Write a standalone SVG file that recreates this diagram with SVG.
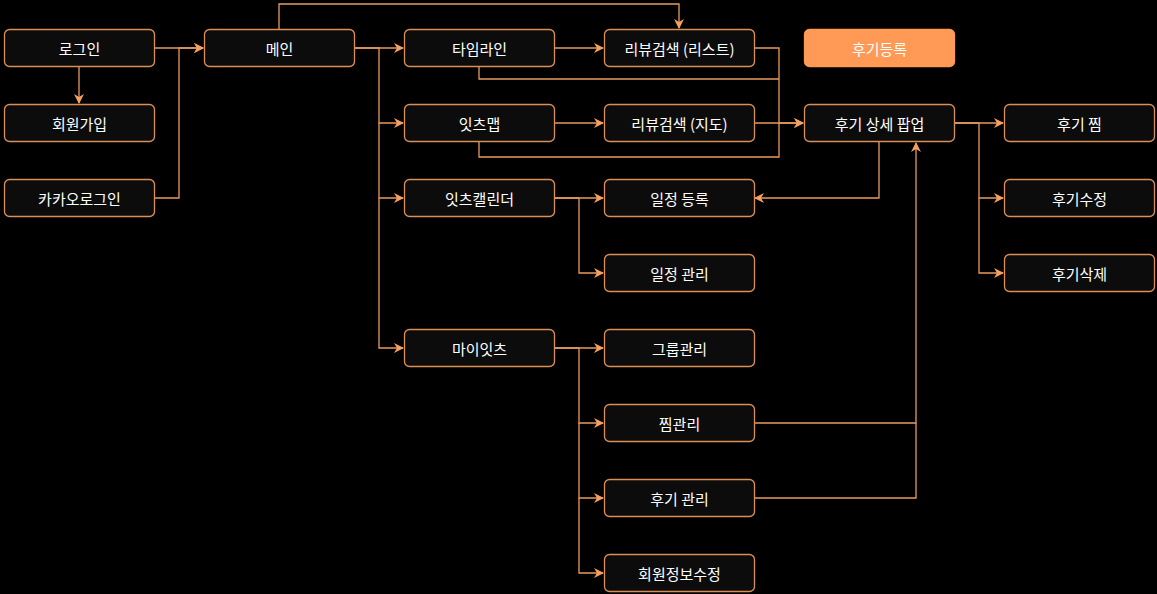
<svg xmlns="http://www.w3.org/2000/svg" width="1157" height="594" viewBox="0 0 1157 594">
<style>
.n rect{fill:#0c0c0c;stroke:#d98f55;stroke-width:1.3}
.n text{fill:#ffffff;font-family:"Noto Sans CJK KR","Noto Sans",sans-serif;font-size:15px;text-anchor:middle;dominant-baseline:central}
.hl rect{fill:#ff9a56;stroke:#ff9a56}
.e path{fill:none;stroke:#e89a5c;stroke-width:1.3}
</style>
<defs>
<marker id="a" viewBox="0 0 10 10" refX="9" refY="5" markerWidth="10" markerHeight="10" markerUnits="userSpaceOnUse" orient="auto">
<path d="M0,0 L10,5 L0,10 L3,5 z" fill="#f5a060"/>
</marker>
</defs>
<rect width="1157" height="594" fill="#000"/>
<g class="e">
<path d="M79,67 V103" marker-end="url(#a)"/>
<path d="M154,48 H203" marker-end="url(#a)"/>
<path d="M154,198 H179 V48 H203" marker-end="url(#a)"/>
<path d="M279,29 V4 H679 V28" marker-end="url(#a)"/>
<path d="M354,48 H403" marker-end="url(#a)"/>
<path d="M354,48 H379 V123 H403" marker-end="url(#a)"/>
<path d="M379,123 V198 H403" marker-end="url(#a)"/>
<path d="M379,198 V348 H403" marker-end="url(#a)"/>
<path d="M554,48 H603" marker-end="url(#a)"/>
<path d="M554,123 H603" marker-end="url(#a)"/>
<path d="M754,48 H779 V123 H803" marker-end="url(#a)"/>
<path d="M479,67 V79 H779"/>
<path d="M754,123 H803" marker-end="url(#a)"/>
<path d="M479,142 V157 H779 V123"/>
<path d="M879,142 V198 H755" marker-end="url(#a)"/>
<path d="M554,198 H603" marker-end="url(#a)"/>
<path d="M554,198 H579 V273 H603" marker-end="url(#a)"/>
<path d="M554,348 H603" marker-end="url(#a)"/>
<path d="M554,348 H579 V423 H603" marker-end="url(#a)"/>
<path d="M579,423 V498 H603" marker-end="url(#a)"/>
<path d="M579,498 V573 H603" marker-end="url(#a)"/>
<path d="M754,423 H916 V143" marker-end="url(#a)"/>
<path d="M754,498 H916 V423"/>
<path d="M954,123 H1003" marker-end="url(#a)"/>
<path d="M954,123 H979 V198 H1003" marker-end="url(#a)"/>
<path d="M979,198 V273 H1003" marker-end="url(#a)"/>
</g>
<g id="login" class="n"><rect x="4.5" y="29.5" width="150" height="37" rx="5"/><text x="79.5" y="48">로그인</text></g>
<g id="signup" class="n"><rect x="4.5" y="104.5" width="150" height="37" rx="5"/><text x="79.5" y="123">회원가입</text></g>
<g id="kakao" class="n"><rect x="4.5" y="179.5" width="150" height="37" rx="5"/><text x="79.5" y="198">카카오로그인</text></g>
<g id="main" class="n"><rect x="204.5" y="29.5" width="150" height="37" rx="5"/><text x="279.5" y="48">메인</text></g>
<g id="timeline" class="n"><rect x="404.5" y="29.5" width="150" height="37" rx="5"/><text x="479.5" y="48">타임라인</text></g>
<g id="eatsmap" class="n"><rect x="404.5" y="104.5" width="150" height="37" rx="5"/><text x="479.5" y="123">잇츠맵</text></g>
<g id="calendar" class="n"><rect x="404.5" y="179.5" width="150" height="37" rx="5"/><text x="479.5" y="198">잇츠캘린더</text></g>
<g id="myeats" class="n"><rect x="404.5" y="329.5" width="150" height="37" rx="5"/><text x="479.5" y="348">마이잇츠</text></g>
<g id="searchlist" class="n"><rect x="604.5" y="29.5" width="150" height="37" rx="5"/><text x="679.5" y="48">리뷰검색 (리스트)</text></g>
<g id="searchmap" class="n"><rect x="604.5" y="104.5" width="150" height="37" rx="5"/><text x="679.5" y="123">리뷰검색 (지도)</text></g>
<g id="schedadd" class="n"><rect x="604.5" y="179.5" width="150" height="37" rx="5"/><text x="679.5" y="198">일정 등록</text></g>
<g id="schedmgmt" class="n"><rect x="604.5" y="254.5" width="150" height="37" rx="5"/><text x="679.5" y="273">일정 관리</text></g>
<g id="group" class="n"><rect x="604.5" y="329.5" width="150" height="37" rx="5"/><text x="679.5" y="348">그룹관리</text></g>
<g id="zzim" class="n"><rect x="604.5" y="404.5" width="150" height="37" rx="5"/><text x="679.5" y="423">찜관리</text></g>
<g id="reviewmgmt" class="n"><rect x="604.5" y="479.5" width="150" height="37" rx="5"/><text x="679.5" y="498">후기 관리</text></g>
<g id="profile" class="n"><rect x="604.5" y="554.5" width="150" height="37" rx="5"/><text x="679.5" y="573">회원정보수정</text></g>
<g id="reviewadd" class="n hl"><rect x="804.5" y="29.5" width="150" height="37" rx="5"/><text x="879.5" y="48">후기등록</text></g>
<g id="detail" class="n"><rect x="804.5" y="104.5" width="150" height="37" rx="5"/><text x="879.5" y="123">후기 상세 팝업</text></g>
<g id="rzzim" class="n"><rect x="1004.5" y="104.5" width="150" height="37" rx="5"/><text x="1079.5" y="123">후기 찜</text></g>
<g id="redit" class="n"><rect x="1004.5" y="179.5" width="150" height="37" rx="5"/><text x="1079.5" y="198">후기수정</text></g>
<g id="rdel" class="n"><rect x="1004.5" y="254.5" width="150" height="37" rx="5"/><text x="1079.5" y="273">후기삭제</text></g>
</svg>
